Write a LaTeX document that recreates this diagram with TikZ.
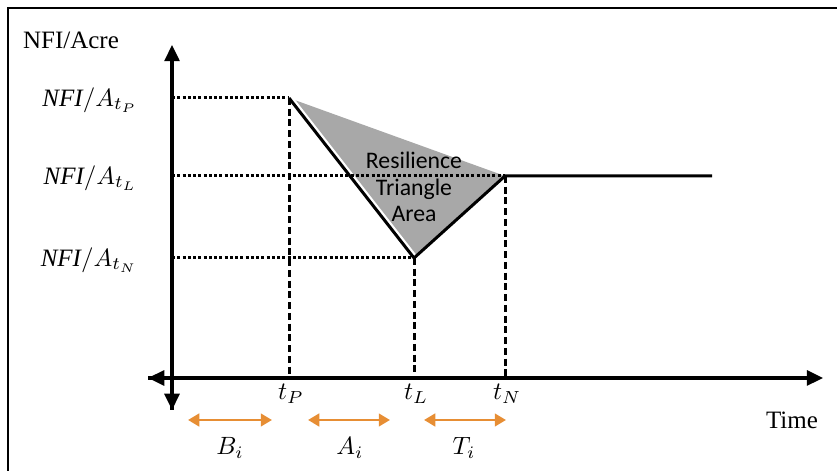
\documentclass[tikz,border=0pt]{standalone}
\usepackage{fontspec}
\setmainfont{Liberation Serif}
\newfontfamily\calibri{Carlito}
\usetikzlibrary{arrows.meta}

\definecolor{spanorange}{RGB}{231,142,52}
\definecolor{areagrey}{RGB}{168,168,168}

\tikzset{
  axisline/.style={line width=1.3pt,-{Triangle[width=6pt,length=6.5pt]}},
  levelline/.style={line width=1.2pt,dash pattern=on 1.2pt off 0.9pt},
  dropline/.style={line width=1.2pt,dash pattern=on 2.8pt off 1.5pt},
  curveline/.style={line width=1.2pt},
  spanarrow/.style={line width=1.1pt,spanorange,{Triangle[width=5pt,length=4.5pt]}-{Triangle[width=5pt,length=4.5pt]}}
}

\begin{document}
\begin{tikzpicture}[x=0.4pt,y=0.4pt]
\useasboundingbox (0,0) rectangle (837,471);
% frame, only top and left show
\draw[line width=0.8pt] (8,0) -- (8,463) -- (837,463);

\coordinate (o) at (172,93);
\coordinate (ytop) at (172,426);
\coordinate (ybot) at (172,61);
\coordinate (xleft) at (148,93);
\coordinate (xright) at (823,93);

\coordinate (pk) at (289,373);
\coordinate (lo) at (414,213);
\coordinate (rc) at (505,295);
\coordinate (flat) at (712,295);

% shaded area
\fill[areagrey] (pk) -- (rc) -- (lo) -- cycle;
\draw[white,line width=3pt] (pk) -- (lo);

% guide lines
\draw[levelline] (o |- pk) -- (pk);
\draw[levelline] (o |- rc) -- (rc);
\draw[levelline] (o |- lo) -- (lo);
\draw[dropline] (pk) -- (pk |- o);
\draw[dropline] (lo) -- (lo |- o);
\draw[dropline] (rc) -- (rc |- o);

% response curve
\draw[curveline] (pk) -- (lo) -- (rc) -- (flat);

% axes
\draw[axisline] (ybot) -- (ytop);
\draw[axisline] (o) -- (ybot);
\draw[axisline] (xleft) -- (xright);
\draw[axisline] (o) -- (xleft);

\node (area) at (414,284) [align=center,font=\calibri\fontsize{9.5}{10.6}\selectfont]
  {Resilience\\Triangle\\Area};

\node (ylab) at (71,431) {NFI/Acre};
\node (xlab) at (792,51) {Time};

\node (lvP) [anchor=east] at (146,371) {$\mathit{NFI}/A_{t_P}$};
\node (lvL) [anchor=east] at (146,293) {$\mathit{NFI}/A_{t_L}$};
\node (lvN) [anchor=east] at (146,211) {$\mathit{NFI}/A_{t_N}$};

\node (tP) at (291,77) {$t_P$};
\node (tL) at (416,77) {$t_L$};
\node (tN) at (507,77) {$t_N$};

\coordinate (b1) at (188,51);  \coordinate (b2) at (272,51);
\coordinate (a1) at (308,51);  \coordinate (a2) at (390,51);
\coordinate (c1) at (424,51);  \coordinate (c2) at (506,51);
\draw[spanarrow] (b1) -- (b2);
\draw[spanarrow] (a1) -- (a2);
\draw[spanarrow] (c1) -- (c2);

\node (Bi) at (230,23) {$B_i$};
\node (Ai) at (350,23) {$A_i$};
\node (Ti) at (464,23) {$T_i$};
\end{tikzpicture}
\end{document}
